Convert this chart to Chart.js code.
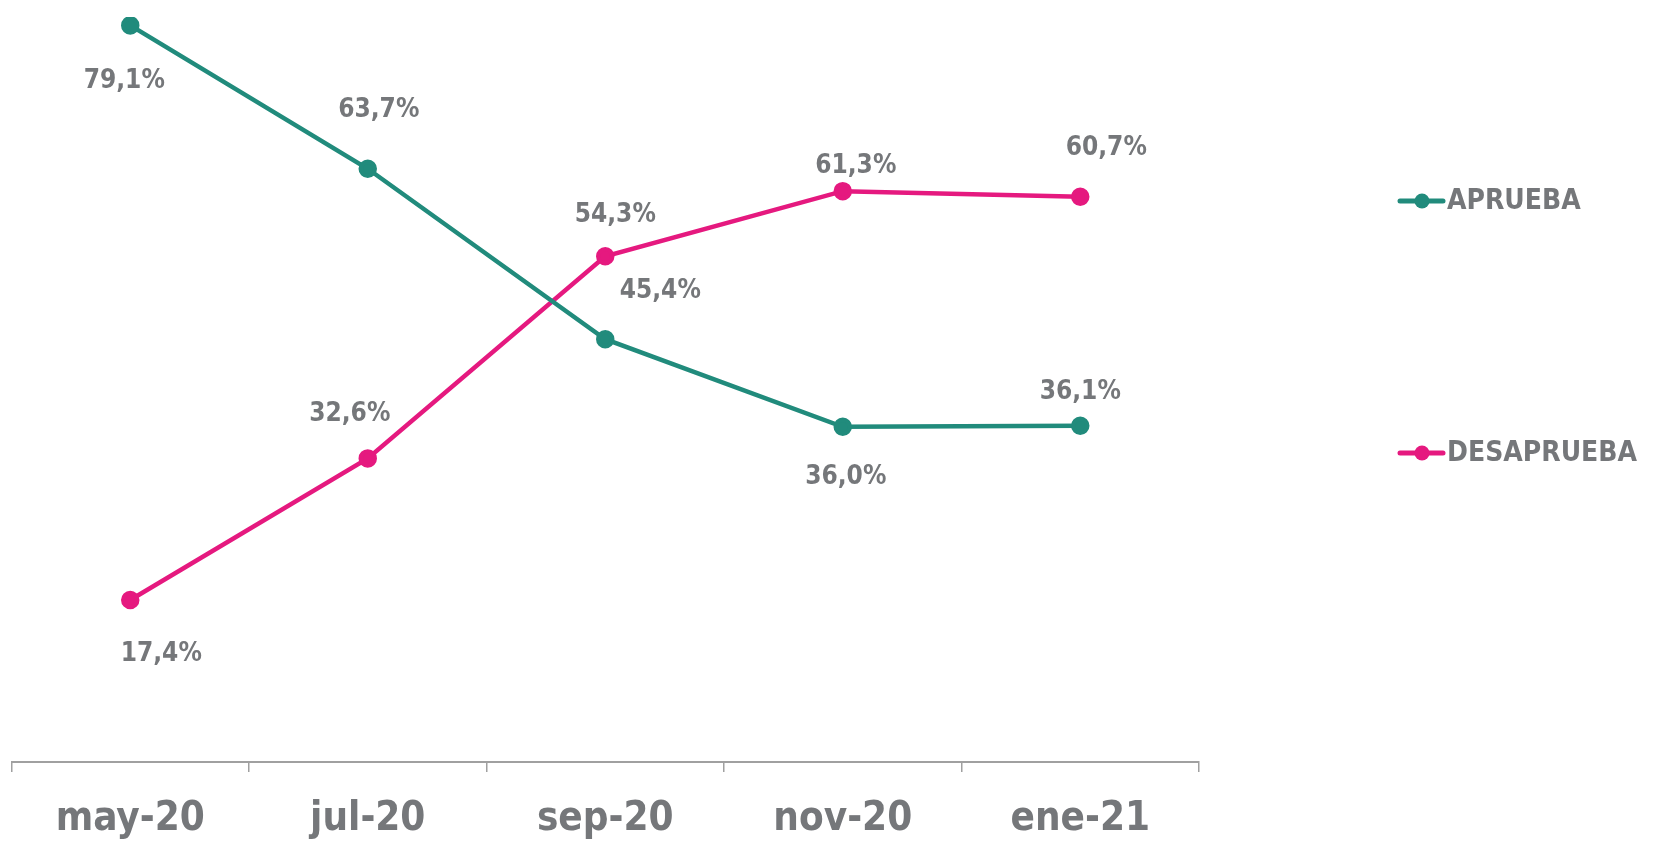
<!DOCTYPE html>
<html>
<head>
<meta charset="utf-8">
<script src="https://cdn.jsdelivr.net/npm/chart.js@4/dist/chart.umd.min.js"></script>
<style>
  body { margin: 0; background: #fff; }
  #wrap { width: 1659px; height: 844px; }
</style>
</head>
<body>
<div id="wrap"><canvas id="myChart" width="1659" height="844"></canvas></div>
<script>
var months = ['may-20', 'jul-20', 'sep-20', 'nov-20', 'ene-21'];
var aprueba = [79.1, 63.7, 45.4, 36.0, 36.1];
var desaprueba = [17.4, 32.6, 54.3, 61.3, 60.7];

var tealColor = '#218b7c';
var pinkColor = '#e5197f';
var textGray = '#75777a';

// where each value label sits relative to its point
var labelShift = {
    0: [[-6, 56], [11, -59], [55, -48], [3, 50], [0, -34]],
    1: [[31, 54], [-18, -44], [10, -41], [13, -25], [26, -48]]
};

function fmt(v) {
    return v.toFixed(1).replace('.', ',') + '%';
}

var valueLabels = {
    id: 'valueLabels',
    afterDatasetsDraw: function (chart) {
        var ctx = chart.ctx;
        ctx.save();
        ctx.font = '600 26px "DejaVu Sans Condensed"';
        ctx.fillStyle = textGray;
        ctx.textAlign = 'center';
        ctx.textBaseline = 'middle';
        chart.data.datasets.forEach(function (ds, i) {
            chart.getDatasetMeta(i).data.forEach(function (pt, j) {
                var s = labelShift[i][j];
                ctx.fillText(fmt(ds.data[j]), pt.x + s[0], pt.y + s[1]);
            });
        });
        ctx.restore();
    }
};

var sideLegend = {
    id: 'sideLegend',
    afterDraw: function (chart) {
        var ctx = chart.ctx;
        var rows = [201, 453];
        ctx.save();
        chart.data.datasets.forEach(function (ds, i) {
            var y = rows[i];
            ctx.strokeStyle = ds.borderColor;
            ctx.lineWidth = 5;
            ctx.lineCap = 'round';
            ctx.beginPath();
            ctx.moveTo(1400, y);
            ctx.lineTo(1443, y);
            ctx.stroke();
            ctx.fillStyle = ds.borderColor;
            ctx.beginPath();
            ctx.arc(1422, y, 7.5, 0, Math.PI * 2);
            ctx.fill();
            ctx.fillStyle = textGray;
            ctx.font = '600 28px "DejaVu Sans Condensed"';
            ctx.textAlign = 'left';
            ctx.textBaseline = 'middle';
            ctx.fillText(ds.label, 1447, y + 1);
        });
        ctx.restore();
    }
};

var ctx = document.getElementById('myChart').getContext('2d');
var myChart = new Chart(ctx, {
    type: 'line',
    data: {
        labels: months,
        datasets: [{
            label: 'APRUEBA',
            data: aprueba,
            borderColor: tealColor,
            backgroundColor: tealColor,
            borderWidth: 4.5,
            pointRadius: 7,
            pointHoverRadius: 7,
            tension: 0
        }, {
            label: 'DESAPRUEBA',
            data: desaprueba,
            borderColor: pinkColor,
            backgroundColor: pinkColor,
            borderWidth: 4.5,
            pointRadius: 7,
            pointHoverRadius: 7,
            tension: 0
        }]
    },
    options: {
        responsive: false,
        animation: false,
        layout: { padding: { left: 10, right: 460, top: 17, bottom: -24 } },
        plugins: {
            legend: { display: false },
            tooltip: { enabled: false }
        },
        scales: {
            x: {
                offset: true,
                grid: {
                    offset: true,
                    drawOnChartArea: false,
                    tickLength: 10,
                    color: '#a0a0a0',
                    lineWidth: 1.5
                },
                border: { color: '#a0a0a0', width: 2 },
                ticks: {
                    color: textGray,
                    padding: 24,
                    font: { family: 'DejaVu Sans Condensed', size: 40, weight: 'bold' }
                }
            },
            y: {
                display: false,
                min: 0,
                max: 80
            }
        }
    },
    plugins: [valueLabels, sideLegend]
});
</script>
</body>
</html>
